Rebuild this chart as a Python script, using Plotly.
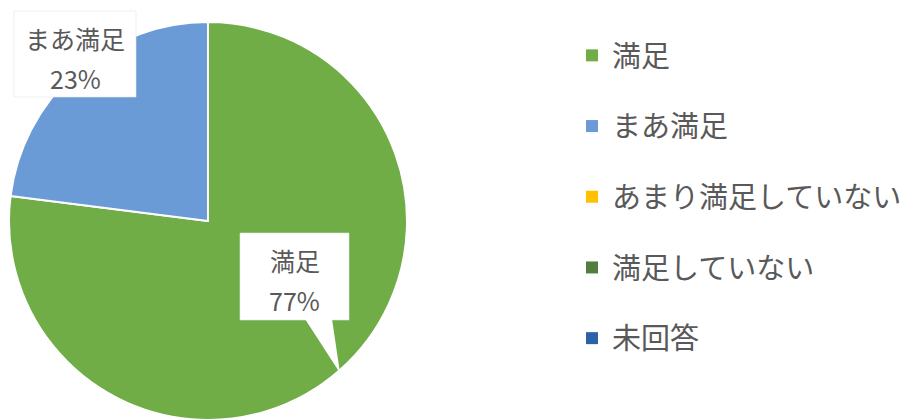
import plotly.graph_objects as go

categories = ["満足", "まあ満足", "あまり満足していない", "満足していない", "未回答"]
values = [77, 23, 0, 0, 0]
colors = ["#70AD47", "#6A9BD6", "#FFC000", "#4F7F3A", "#2E62A8"]

# page has an 8px body margin; figure sized to fit the 914x420 window
OFF = 8
W, H = 914 - OFF, 420 - OFF
def px(x): return (x - OFF) / W
def py(y): return 1 - (y - OFF) / H

fig = go.Figure()
fig.add_trace(go.Pie(
    labels=categories, values=values, sort=False, direction="clockwise",
    rotation=0, marker=dict(colors=colors, line=dict(color="white", width=2)),
    textinfo="none", hoverinfo="label+percent", showlegend=False,
    domain=dict(x=[px(9), px(407)], y=[0, py(22)]),
))

# legend entries via dummy traces
for i, (c, col) in enumerate(zip(categories, colors)):
    fig.add_trace(go.Scatter(x=[None], y=[None], mode="markers", name=c,
                             legendgroup=f"g{i}",
                             marker=dict(symbol="square", size=12, color=col)))

callouts = [
    (1, (14, 11, 136, 97), None),
    (0, (240, 233, 349, 320), [(305, 319), (332, 319), (340, 373)]),
]
shapes = []
annotations = []
total = sum(values)
for idx, (x0, y0, x1, y1), ptr in callouts:
    shapes.append(dict(type="rect", xref="paper", yref="paper",
                       x0=px(x0), x1=px(x1), y0=py(y1), y1=py(y0),
                       fillcolor="white", line=dict(width=0.6, color="#E4E4E4")))
    if ptr:
        path = "M " + " L ".join(f"{px(a)},{py(b)}" for a, b in ptr) + " Z"
        shapes.append(dict(type="path", xref="paper", yref="paper", path=path,
                           fillcolor="white", line=dict(width=0)))
    cx = (x0 + x1) / 2
    pct = round(values[idx] / total * 100)
    for text, dy in ((categories[idx], 27), (f"{pct}%", 67)):
        annotations.append(dict(x=px(cx), y=py(y0 + dy), xref="paper", yref="paper",
                                xanchor="center", yanchor="middle",
                                text=text, showarrow=False,
                                font=dict(size=25, color="#595959")))

fig.update_layout(
    width=W, height=H,
    margin=dict(l=0, r=0, t=0, b=0),
    paper_bgcolor="white", plot_bgcolor="white",
    font=dict(family="Noto Sans CJK JP, sans-serif", color="#595959"),
    xaxis=dict(visible=False), yaxis=dict(visible=False),
    legend=dict(x=px(572), y=py(30), xanchor="left", yanchor="top",
                font=dict(size=29, color="#595959"), tracegroupgap=30,
                bgcolor="rgba(0,0,0,0)"),
    shapes=shapes, annotations=annotations,
)

fig.write_html("out.html")
